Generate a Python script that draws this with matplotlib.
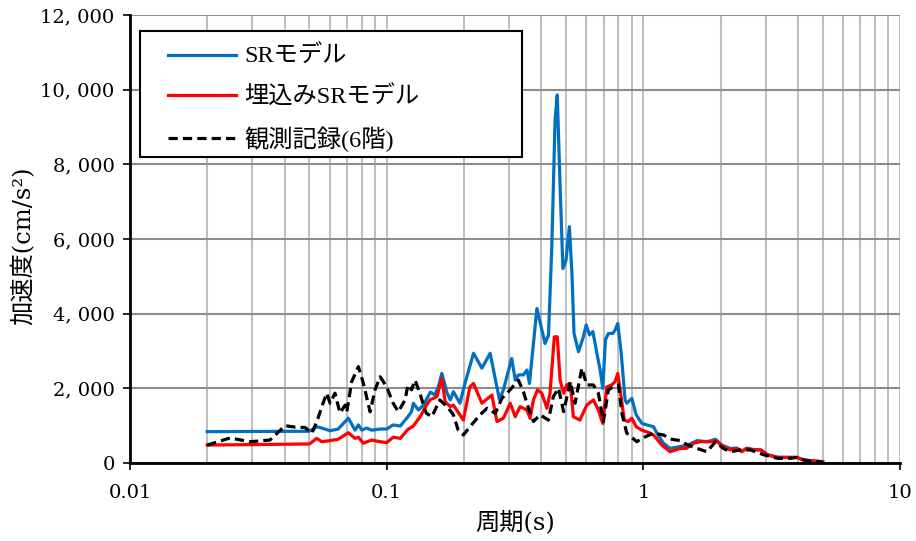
import matplotlib
matplotlib.use("Agg")
import matplotlib.pyplot as plt
from matplotlib.ticker import FixedLocator, FuncFormatter, NullFormatter
from matplotlib.font_manager import FontProperties
from matplotlib.patches import Rectangle
import numpy as np

# ---- data ----
sr_period = [0.020, 0.050, 0.0534, 0.0559, 0.0602, 0.0647, 0.0709, 0.0753, 0.0776, 0.0800,
             0.0836, 0.0875, 0.0943, 0.100, 0.106, 0.113, 0.121, 0.125, 0.127, 0.133,
             0.139, 0.148, 0.154, 0.159, 0.164, 0.172, 0.177, 0.182, 0.193, 0.202,
             0.218, 0.235, 0.253, 0.275, 0.285, 0.307, 0.317, 0.326, 0.341, 0.352,
             0.360, 0.385, 0.414, 0.427, 0.440, 0.453, 0.462, 0.474, 0.486, 0.500,
             0.515, 0.527, 0.537, 0.559, 0.584, 0.599, 0.617, 0.636, 0.659, 0.679,
             0.695, 0.712, 0.731, 0.760, 0.776, 0.795, 0.820, 0.849, 0.862, 0.902,
             0.938, 0.987, 1.096, 1.130, 1.198, 1.272, 1.391, 1.49, 1.62, 1.77,
             1.91, 2.02, 2.18, 2.31, 2.42, 2.53, 2.69, 2.87, 3.05, 3.34,
             3.65, 3.96, 4.20, 4.60, 5.0]
sr_acc = [840, 850, 970, 935, 865, 910, 1200, 880, 1020, 880,
          935, 880, 910, 910, 1020, 990, 1240, 1375, 1600, 1420,
          1550, 1900, 1820, 2040, 2400, 1870, 1690, 1910, 1600, 2140,
          2940, 2540, 2940, 1700, 1960, 2800, 2220, 2360, 2360, 2490,
          2130, 4140, 3200, 3430, 5800, 9190, 9860, 7400, 5210, 5440,
          6330, 5080, 3470, 2980, 3380, 3700, 3430, 3520, 2940, 2490,
          2000, 3300, 3470, 3470, 3560, 3740, 2940, 1690, 1600, 1730,
          1290, 1060, 970, 800, 530, 390, 440, 480, 600, 570,
          635, 480, 390, 400, 320, 400, 360, 350, 220, 155,
          150, 150, 85, 55, 35]

emb_period = [0.020, 0.050, 0.0534, 0.0559, 0.0602, 0.0647, 0.0709, 0.0753, 0.0776, 0.0811,
              0.0875, 0.0943, 0.100, 0.106, 0.113, 0.121, 0.127, 0.135, 0.143, 0.148,
              0.152, 0.157, 0.164, 0.169, 0.177, 0.182, 0.199, 0.211, 0.218, 0.235,
              0.257, 0.269, 0.285, 0.303, 0.317, 0.331, 0.352, 0.362, 0.373, 0.387,
              0.402, 0.421, 0.433, 0.450, 0.462, 0.474, 0.489, 0.503, 0.519, 0.534,
              0.566, 0.602, 0.639, 0.668, 0.695, 0.721, 0.753, 0.776, 0.795, 0.812,
              0.843, 0.875, 0.902, 0.938, 0.987, 1.063, 1.096, 1.18, 1.272, 1.391,
              1.47, 1.57, 1.665, 1.82, 1.91, 2.05, 2.18, 2.31, 2.42, 2.53,
              2.69, 2.87, 3.05, 3.34, 3.65, 3.96, 4.20, 4.60, 5.0]
emb_acc = [480, 510, 660, 570, 600, 635, 810, 660, 690, 530,
           615, 570, 545, 690, 660, 900, 990, 1240, 1550, 1700,
           1730, 1780, 2270, 1640, 1510, 1550, 1150, 2040, 2130, 1600,
           1820, 1110, 1200, 1600, 1240, 1510, 1420, 1200, 1690, 1960,
           1870, 1465, 1870, 3380, 3380, 2220, 1870, 2090, 2130, 1240,
           1150, 1550, 1690, 1420, 1060, 2040, 2090, 2180, 2400, 1960,
           1150, 1110, 1200, 970, 880, 800, 750, 480, 300, 390,
           390, 530, 570, 570, 600, 440, 350, 390, 300, 390,
           350, 350, 215, 150, 150, 150, 80, 55, 35]

obs_period = [0.020, 0.0245, 0.0294, 0.0351, 0.0402, 0.0440, 0.0481, 0.0511, 0.0534, 0.0565,
              0.0584, 0.0602, 0.0629, 0.0658, 0.0689, 0.0699, 0.0731, 0.0776, 0.0811, 0.0862,
              0.0901, 0.0943, 0.100, 0.106, 0.111, 0.118, 0.121, 0.125, 0.129, 0.135,
              0.141, 0.143, 0.150, 0.161, 0.172, 0.182, 0.190, 0.199, 0.211, 0.231,
              0.246, 0.265, 0.281, 0.298, 0.326, 0.341, 0.357, 0.373, 0.396, 0.427,
              0.446, 0.467, 0.489, 0.519, 0.542, 0.576, 0.602, 0.639, 0.668, 0.699,
              0.731, 0.764, 0.800, 0.825, 0.862, 0.943, 0.987, 1.096, 1.198, 1.29,
              1.391, 1.49, 1.62, 1.77, 1.91, 2.05, 2.18, 2.38, 2.61, 2.96,
              3.34, 3.73, 3.96, 4.33, 5.0]
obs_acc = [480, 670, 570, 615, 1000, 960, 950, 800, 1100, 1600,
           1870, 1600, 1870, 1340, 1550, 1370, 2180, 2580, 2140, 1370,
           1960, 2310, 2040, 1600, 1375, 1690, 2090, 1960, 2220, 1850,
           1420, 1330, 1240, 1690, 1510, 1290, 880, 750, 970, 1290,
           1465, 1330, 1730, 1910, 2220, 1910, 1465, 1110, 1290, 1150,
           1780, 2000, 1375, 2180, 1600, 2540, 2090, 2090, 1870, 1110,
           1960, 2040, 2090, 1330, 800, 570, 660, 800, 750, 635,
           600, 480, 390, 300, 570, 390, 300, 350, 350, 215,
           125, 125, 150, 60, 25]

series_labels = ["SRモデル", "埋込みSRモデル", "観測記録(6階)"]
x_ticks = [0.01, 0.1, 1, 10]
x_tick_labels = ["0.01", "0.1", "1", "10"]
y_ticks = [0, 2000, 4000, 6000, 8000, 10000, 12000]
x_label = "周期(s)"
y_label = "加速度(cm/s²)"

# ---- figure ----
fig = plt.figure(figsize=(9.16, 5.41), dpi=100)
ax = fig.add_axes([130/916, 78/541, 770/916, 448/541])

ax.plot(sr_period, sr_acc, color="#0070C0", lw=2.3, solid_joinstyle="round",
        label=series_labels[0], zorder=3)
ax.plot(emb_period, emb_acc, color="#FF0000", lw=2.3, solid_joinstyle="round",
        label=series_labels[1], zorder=4)
ax.plot(obs_period, obs_acc, color="black", lw=2.3, dashes=(2.9, 1.6),
        dash_capstyle="butt", label=series_labels[2], zorder=5)

ax.set_xscale("log")
ax.set_xlim(0.01, 10)
ax.set_ylim(0, 12000)

ax.xaxis.set_major_locator(FixedLocator(x_ticks))
ax.xaxis.set_major_formatter(FuncFormatter(lambda v, p: x_tick_labels[x_ticks.index(v)] if v in x_ticks else ""))
minor = [m * 10.0**e for e in (-2, -1, 0) for m in range(2, 10)]
ax.xaxis.set_minor_locator(FixedLocator(minor))
ax.xaxis.set_minor_formatter(NullFormatter())
ax.yaxis.set_major_locator(FixedLocator(y_ticks))
ax.yaxis.set_major_formatter(FuncFormatter(lambda v, p: f"{int(v):,}".replace(",", ", ")))

ax.grid(True, which="major", axis="y", color="#8C8C8C", lw=1.5, zorder=0)
ax.grid(True, which="both", axis="x", color="#BFBFBF", lw=1.5, zorder=0)
ax.set_axisbelow(True)

for s in ("top", "right"):
    ax.spines[s].set_visible(False)
for s in ("left", "bottom"):
    ax.spines[s].set_color("black")
    ax.spines[s].set_linewidth(2.0)
    ax.spines[s].set_zorder(6)

ax.tick_params(axis="both", which="major", direction="out", length=5, width=1.2, color="black")
ax.tick_params(axis="x", which="minor", length=0)
tickfont = FontProperties(family=["DejaVu Serif"], size=14)
for lab in ax.get_xticklabels() + ax.get_yticklabels():
    lab.set_fontproperties(tickfont)
ax.tick_params(axis="x", pad=10)
ax.tick_params(axis="y", pad=6)

labfont = FontProperties(family=["DejaVu Serif", "Noto Sans CJK JP"], size=17.5)
ax.set_xlabel(x_label, fontproperties=labfont, labelpad=6)
ax.set_ylabel(y_label, fontproperties=labfont)
ax.yaxis.set_label_coords((35 - 130) / 770, (463 - 246) / 448)

# legend frame (drawn separately to match the wide box of the original)
frame = Rectangle((10/770, (463-157)/448), 382/770, 126/448, transform=ax.transAxes,
                  facecolor="white", edgecolor="black", lw=1.5, zorder=9)
ax.add_patch(frame)

legfont = FontProperties(family=["Liberation Serif", "Noto Sans CJK JP"], size=17.5)
leg = ax.legend(loc="upper left", bbox_to_anchor=(38/770, (463-46)/448),
                prop=legfont, frameon=False, handlelength=2.8, handletextpad=0.35,
                labelspacing=0.72, borderpad=0, borderaxespad=0)
leg.set_zorder(10)

fig.savefig("out.png", dpi=100)
